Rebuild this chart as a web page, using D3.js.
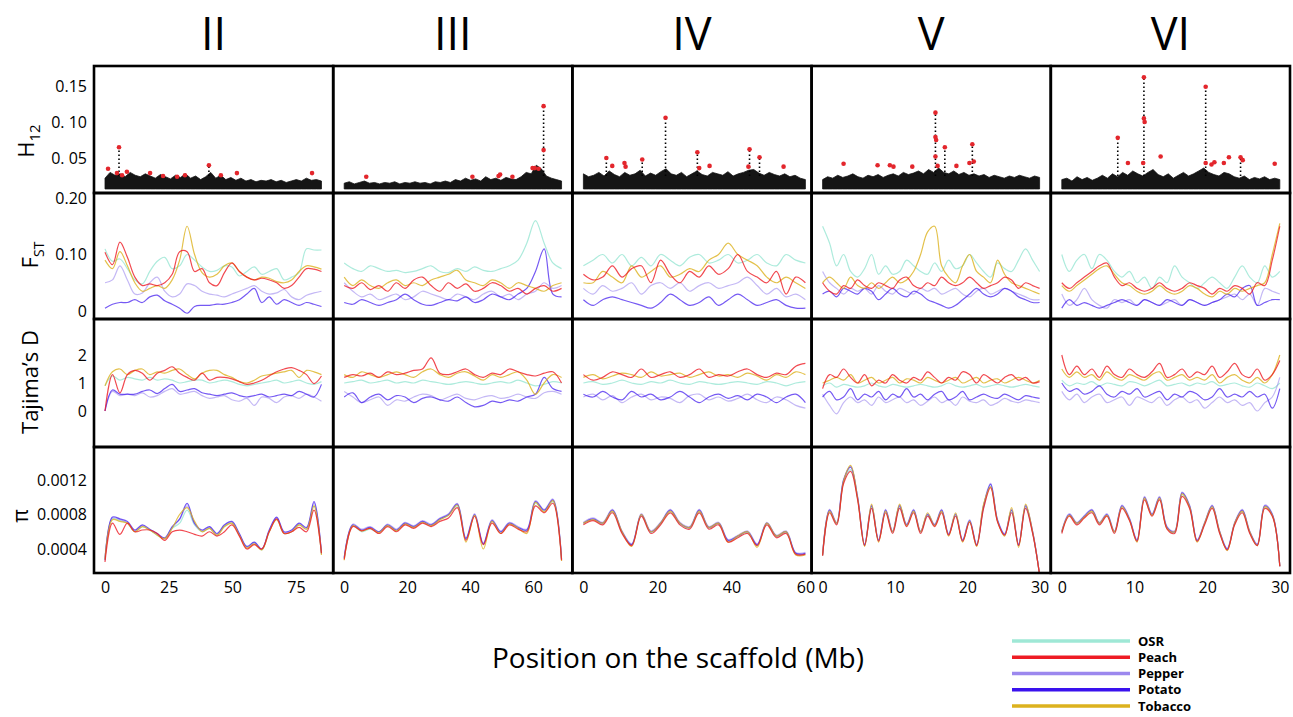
<!DOCTYPE html>
<html>
<head>
<meta charset="utf-8">
<script src="https://cdn.jsdelivr.net/npm/d3@7"></script>
<style>
  body { margin: 0; background: #fff; }
  svg text { font-family: "Open Sans", sans-serif; fill: #000; }
</style>
</head>
<body>
<svg id="chart" width="1293" height="717"></svg>
<script>
// ---- categories / ticks ----
const scaffolds = ["II", "III", "IV", "V", "VI"];
const scaffoldLength = [85, 69, 60, 30, 30];           // Mb
const xTicks = [[0, 25, 50, 75], [0, 20, 40, 60], [0, 20, 40, 60], [0, 10, 20, 30], [0, 10, 20, 30]];
const seriesNames = ["OSR", "Peach", "Pepper", "Potato", "Tobacco"];
const drawOrder = ["OSR", "Pepper", "Potato", "Tobacco", "Peach"];

const h12Ticks = [0.05, 0.10, 0.15];
const h12TickLabels = ["0. 05", "0. 10", "0.15"];
const fstTicks = [0, 0.10, 0.20];
const fstTickLabels = ["0", "0.10", "0.20"];
const tajTicks = [0, 1, 2];
const tajTickLabels = ["0", "1", "2"];
const piTicks = [0.0004, 0.0008, 0.0012];
const piTickLabels = ["0.0004", "0.0008", "0.0012"];

// ---- H12 : top of the dense black band, peaks and red outliers ----
const h12BandBase = 0.007;
const h12BandII = [0.022,0.03,0.026,0.028,0.024,0.03,0.026,0.024,0.028,0.025,0.022,0.027,0.024,0.021,0.026,0.023,0.028,0.022,0.025,0.02,0.024,0.03,0.022,0.026,0.02,0.023,0.019,0.022,0.018,0.02,0.017,0.019,0.018,0.02,0.017,0.019,0.016,0.018,0.02,0.018,0.022,0.019,0.02,0.018];
const h12BandIII = [0.015,0.017,0.014,0.016,0.018,0.015,0.016,0.014,0.016,0.015,0.017,0.014,0.016,0.015,0.017,0.015,0.016,0.014,0.017,0.016,0.018,0.016,0.02,0.018,0.022,0.019,0.021,0.018,0.024,0.02,0.022,0.019,0.023,0.021,0.02,0.024,0.03,0.028,0.04,0.035,0.025,0.022,0.02,0.018];
const h12BandIV = [0.028,0.024,0.026,0.03,0.025,0.032,0.027,0.024,0.03,0.026,0.028,0.033,0.025,0.029,0.026,0.031,0.035,0.028,0.026,0.03,0.024,0.028,0.032,0.027,0.025,0.03,0.028,0.026,0.031,0.025,0.028,0.03,0.033,0.034,0.029,0.026,0.03,0.027,0.025,0.028,0.024,0.026,0.022,0.02];
const h12BandV = [0.02,0.024,0.022,0.026,0.023,0.025,0.028,0.024,0.022,0.026,0.024,0.027,0.023,0.026,0.028,0.025,0.03,0.027,0.029,0.032,0.028,0.034,0.03,0.036,0.03,0.028,0.032,0.027,0.03,0.026,0.028,0.025,0.027,0.023,0.026,0.024,0.022,0.025,0.023,0.026,0.024,0.022,0.025,0.023];
const h12BandVI = [0.02,0.022,0.018,0.024,0.02,0.023,0.019,0.022,0.026,0.022,0.028,0.024,0.03,0.026,0.032,0.028,0.025,0.03,0.034,0.027,0.024,0.028,0.022,0.026,0.03,0.025,0.028,0.032,0.036,0.03,0.027,0.025,0.03,0.028,0.024,0.022,0.025,0.02,0.023,0.021,0.024,0.02,0.022,0.02];

const h12PeaksII = [[5.5,0.065],[40.8,0.04]];
const h12PeaksIII = [[63.3,0.122]];
const h12PeaksIV = [[6.2,0.05],[15.9,0.048],[22.2,0.106],[30.8,0.058],[44.9,0.062],[47.6,0.051]];
const h12PeaksV = [[15.6,0.113],[16.9,0.065],[20.7,0.069]];
const h12PeaksVI = [[7.7,0.078],[11.3,0.162],[19.8,0.149],[24.6,0.05]];

const h12OutliersII = [[1.2,0.035],[5.5,0.065],[4.7,0.029],[6.7,0.026],[8.6,0.031],[17.7,0.029],[22.8,0.025],[28.3,0.024],[31.4,0.026],[40.8,0.04],[45.5,0.026],[51.8,0.029],[81.3,0.029]];
const h12OutliersIII = [[7.0,0.024],[40.7,0.024],[49,0.025],[49.5,0.027],[53.4,0.024],[59.8,0.036],[60.5,0.036],[61.7,0.035],[63.3,0.061],[63.3,0.122]];
const h12OutliersIV = [[6.2,0.05],[7.8,0.039],[11.1,0.043],[11.4,0.038],[15.9,0.048],[22.2,0.106],[30.8,0.058],[31.3,0.036],[34.1,0.039],[44.9,0.062],[44.6,0.038],[47.6,0.051],[54.1,0.038]];
const h12OutliersV = [[2.9,0.042],[7.6,0.04],[9.3,0.04],[9.8,0.038],[12.4,0.038],[15.6,0.113],[15.6,0.079],[15.7,0.075],[15.6,0.052],[15.9,0.039],[16.9,0.065],[18.5,0.039],[20.3,0.043],[20.7,0.069],[20.9,0.045]];
const h12OutliersVI = [[7.7,0.078],[9.1,0.043],[11.3,0.162],[11.3,0.105],[11.4,0.1],[11.2,0.043],[13.6,0.052],[19.8,0.149],[19.8,0.043],[20.6,0.041],[21.0,0.044],[22.3,0.043],[23.0,0.051],[24.6,0.051],[24.9,0.047],[29.3,0.042]];

// ---- FST ----
const fstII = {
  OSR: [0.11,0.088,0.092,0.075,0.055,0.048,0.07,0.088,0.095,0.075,0.08,0.1,0.09,0.078,0.07,0.072,0.08,0.078,0.062,0.07,0.078,0.065,0.07,0.075,0.055,0.06,0.068,0.11,0.108,0.108],
  Peach: [0.104,0.082,0.122,0.095,0.06,0.045,0.048,0.045,0.05,0.065,0.105,0.105,0.07,0.075,0.05,0.045,0.068,0.085,0.07,0.06,0.055,0.058,0.055,0.05,0.04,0.045,0.06,0.075,0.074,0.07],
  Pepper: [0.05,0.055,0.08,0.055,0.03,0.032,0.05,0.06,0.035,0.025,0.03,0.048,0.045,0.035,0.03,0.028,0.025,0.03,0.035,0.04,0.045,0.035,0.03,0.032,0.038,0.025,0.02,0.028,0.032,0.035],
  Potato: [0.005,0.012,0.015,0.015,0.02,0.015,0.025,0.028,0.018,0.012,0.005,-0.004,0.008,0.01,0.01,0.012,0.012,0.015,0.02,0.03,0.04,0.015,0.025,0.012,0.02,0.015,0.01,0.015,0.012,0.008],
  Tobacco: [0.09,0.075,0.105,0.08,0.05,0.035,0.04,0.045,0.04,0.055,0.09,0.15,0.1,0.068,0.06,0.065,0.08,0.085,0.07,0.06,0.055,0.06,0.058,0.052,0.05,0.055,0.07,0.08,0.078,0.074]
};
const fstIII = {
  OSR: [0.085,0.075,0.07,0.08,0.075,0.07,0.072,0.068,0.07,0.075,0.08,0.07,0.068,0.075,0.07,0.078,0.072,0.07,0.075,0.08,0.09,0.12,0.16,0.12,0.085,0.075],
  Peach: [0.045,0.04,0.05,0.038,0.045,0.035,0.05,0.04,0.055,0.06,0.045,0.035,0.05,0.04,0.048,0.035,0.04,0.05,0.045,0.035,0.04,0.03,0.04,0.045,0.035,0.04],
  Pepper: [0.05,0.035,0.025,0.03,0.02,0.025,0.03,0.02,0.025,0.035,0.03,0.025,0.02,0.03,0.025,0.02,0.03,0.035,0.025,0.03,0.02,0.03,0.035,0.05,0.04,0.045],
  Potato: [0.015,0.012,0.02,0.015,0.01,0.015,0.02,0.03,0.02,0.012,0.01,0.015,0.02,0.018,0.025,0.015,0.02,0.03,0.025,0.02,0.03,0.04,0.07,0.11,0.03,0.025],
  Tobacco: [0.06,0.045,0.055,0.045,0.04,0.05,0.055,0.045,0.05,0.045,0.055,0.06,0.065,0.072,0.055,0.05,0.045,0.055,0.05,0.04,0.05,0.045,0.04,0.035,0.045,0.05]
};
const fstIV = {
  OSR: [0.08,0.09,0.1,0.085,0.1,0.08,0.095,0.08,0.1,0.09,0.08,0.095,0.1,0.085,0.09,0.1,0.085,0.09,0.1,0.085,0.08,0.1,0.09,0.085],
  Peach: [0.065,0.055,0.06,0.08,0.06,0.075,0.08,0.05,0.09,0.065,0.05,0.07,0.06,0.08,0.065,0.075,0.1,0.07,0.06,0.05,0.07,0.03,0.06,0.05],
  Pepper: [0.04,0.03,0.045,0.035,0.04,0.05,0.03,0.045,0.05,0.04,0.05,0.035,0.045,0.05,0.04,0.045,0.05,0.06,0.045,0.03,0.04,0.025,0.03,0.02],
  Potato: [0.02,0.01,0.02,0.025,0.02,0.015,0.01,0.005,0.015,0.03,0.02,0.01,0.015,0.025,0.01,0.02,0.03,0.02,0.01,0.015,0.02,0.01,0.005,0.005],
  Tobacco: [0.05,0.05,0.07,0.06,0.05,0.08,0.06,0.07,0.08,0.06,0.065,0.075,0.07,0.09,0.1,0.12,0.1,0.09,0.08,0.06,0.05,0.06,0.05,0.04]
};
const fstV = {
  OSR: [0.15,0.12,0.08,0.1,0.07,0.06,0.075,0.1,0.065,0.08,0.065,0.07,0.09,0.08,0.07,0.065,0.085,0.07,0.09,0.075,0.08,0.1,0.085,0.07,0.06,0.085,0.075,0.07,0.09,0.11,0.09,0.07],
  Peach: [0.05,0.035,0.03,0.045,0.04,0.055,0.045,0.04,0.05,0.045,0.04,0.055,0.06,0.045,0.04,0.05,0.045,0.06,0.05,0.045,0.05,0.06,0.05,0.04,0.045,0.05,0.06,0.055,0.04,0.05,0.045,0.04],
  Pepper: [0.07,0.05,0.04,0.03,0.04,0.035,0.04,0.03,0.045,0.035,0.03,0.04,0.035,0.03,0.04,0.035,0.04,0.03,0.035,0.04,0.03,0.025,0.035,0.04,0.03,0.035,0.04,0.035,0.03,0.025,0.02,0.02],
  Potato: [0.03,0.035,0.025,0.04,0.035,0.03,0.04,0.035,0.02,0.03,0.04,0.03,0.025,0.035,0.03,0.02,0.015,0.01,0.005,0.01,0.02,0.03,0.04,0.03,0.025,0.03,0.04,0.035,0.025,0.02,0.015,0.015],
  Tobacco: [0.05,0.06,0.05,0.04,0.06,0.045,0.04,0.05,0.04,0.05,0.06,0.05,0.055,0.07,0.1,0.14,0.15,0.08,0.06,0.05,0.08,0.1,0.07,0.06,0.05,0.09,0.065,0.05,0.045,0.04,0.035,0.03]
};
const fstVI = {
  OSR: [0.1,0.07,0.09,0.1,0.075,0.1,0.09,0.07,0.06,0.07,0.05,0.06,0.04,0.06,0.05,0.08,0.06,0.05,0.04,0.05,0.06,0.05,0.04,0.06,0.08,0.06,0.05,0.08,0.06,0.07],
  Peach: [0.05,0.04,0.05,0.06,0.07,0.08,0.085,0.06,0.045,0.05,0.04,0.035,0.04,0.05,0.04,0.035,0.04,0.05,0.045,0.04,0.03,0.04,0.035,0.045,0.04,0.03,0.05,0.045,0.09,0.15],
  Pepper: [0.03,0.01,0.02,0.04,0.02,0.01,0.005,0.02,0.015,0.02,0.01,0.02,0.015,0.01,0.015,0.02,0.01,0.02,0.015,0.01,0.015,0.02,0.025,0.03,0.02,0.03,0.01,0.04,0.035,0.03],
  Potato: [0.005,0.02,0.01,0.015,0.01,0.005,0.01,0.015,0.02,0.015,0.01,0.02,0.015,0.01,0.02,0.015,0.01,0.02,0.015,0.01,0.015,0.02,0.03,0.025,0.04,0.045,0.01,0.015,0.02,0.02],
  Tobacco: [0.045,0.035,0.045,0.055,0.065,0.075,0.08,0.065,0.05,0.045,0.035,0.03,0.035,0.045,0.035,0.03,0.035,0.045,0.04,0.03,0.025,0.035,0.03,0.04,0.035,0.04,0.045,0.05,0.1,0.155]
};

// ---- Tajima's D ----
const tajII = {
  OSR: [0.9,1.25,1.1,1.2,1.15,1.1,1.2,1.1,1.15,1.1,1.0,1.05,1.1,1.1,1.0,1.05,1.1,1.05,0.95,0.9,0.95,1.0,1.05,1.1,1.0,1.05,1.1,1.0,0.95,1.05],
  Peach: [0.0,1.3,0.65,1.3,1.45,1.35,1.1,1.35,1.45,1.58,1.35,1.2,1.1,1.35,1.1,1.2,1.2,1.15,1.05,0.95,1.0,1.1,1.25,1.4,1.5,1.55,1.45,1.3,0.98,1.25],
  Pepper: [0.0,0.7,0.55,0.6,0.55,0.65,0.5,0.55,0.7,0.8,0.6,0.65,0.7,0.55,0.45,0.5,0.55,0.4,0.35,0.45,0.2,0.5,0.45,0.3,0.5,0.55,0.45,0.6,0.5,0.35],
  Potato: [0.0,0.75,0.6,0.6,0.6,0.7,0.75,0.62,0.8,0.95,0.7,0.75,0.8,0.65,0.6,0.55,0.6,0.65,0.55,0.5,0.55,0.6,0.5,0.55,0.6,0.55,0.7,0.6,0.5,0.95],
  Tobacco: [0.9,1.4,1.5,1.3,1.45,1.5,1.3,1.4,1.35,1.45,1.5,1.3,1.15,1.35,1.45,1.45,1.3,1.2,1.05,1.0,1.1,1.25,1.3,1.35,1.4,1.45,1.2,1.45,1.4,1.3]
};
const tajIII = {
  OSR: [1.0,1.05,1.1,1.0,1.05,1.1,1.0,1.05,1.0,1.1,1.05,1.0,0.95,1.0,1.05,1.0,0.95,1.0,1.05,1.0,1.1,1.0,0.9,0.95,1.05,1.0],
  Peach: [1.2,1.3,1.25,1.35,1.2,1.4,1.3,1.35,1.45,1.5,1.9,1.35,1.3,1.4,1.5,1.3,1.2,1.35,1.3,1.5,1.4,1.3,1.25,1.35,1.4,1.0],
  Pepper: [0.7,0.5,0.3,0.4,0.5,0.2,0.4,0.35,0.5,0.6,0.55,0.4,0.5,0.6,0.45,0.4,0.5,0.55,0.45,0.5,0.6,0.5,0.45,0.65,0.7,0.6],
  Potato: [0.5,0.65,0.3,0.5,0.6,0.4,0.55,0.5,0.3,0.45,0.5,0.4,0.35,0.5,0.3,0.15,0.2,0.35,0.3,0.4,0.35,0.5,0.6,1.2,0.8,0.7],
  Tobacco: [1.3,1.2,1.4,1.3,1.2,1.3,1.4,1.3,1.2,1.4,1.5,1.3,1.2,1.35,1.4,1.25,1.1,1.3,1.2,1.3,1.4,1.1,0.6,1.0,1.3,1.2]
};
const tajIV = {
  OSR: [1.0,1.05,0.95,1.0,1.1,1.0,0.95,1.05,1.0,1.1,1.0,0.95,1.05,1.0,0.95,1.0,1.05,1.0,0.95,1.05,1.0,0.9,1.0,1.05],
  Peach: [1.3,1.1,1.2,1.4,1.3,1.2,1.5,1.2,1.3,1.4,1.2,1.3,1.5,1.2,1.3,1.25,1.4,1.5,1.3,1.2,1.35,1.3,1.6,1.7],
  Pepper: [0.5,0.6,0.4,0.55,0.3,0.5,0.6,0.4,0.5,0.45,0.3,0.55,0.6,0.4,0.5,0.35,0.45,0.6,0.4,0.3,0.5,0.4,0.2,0.1],
  Potato: [0.6,0.5,0.7,0.5,0.4,0.7,0.5,0.6,0.4,0.5,0.7,0.5,0.3,0.5,0.6,0.45,0.55,0.4,0.6,0.5,0.3,0.5,0.6,0.3],
  Tobacco: [1.2,1.3,1.15,1.25,1.35,1.3,1.2,1.4,1.25,1.3,1.35,1.2,1.3,1.4,1.25,1.3,1.2,1.35,1.25,1.1,1.3,1.2,1.4,1.3]
};
const tajV = {
  OSR: [0.9,1.0,0.85,0.95,0.9,0.85,0.9,1.0,0.9,0.85,0.95,0.9,0.85,0.9,0.95,0.9,0.85,0.9,1.0,0.9,0.85,0.9,0.95,0.85,0.9,0.95,0.9,0.85,0.9,0.95,0.9,0.85],
  Peach: [0.8,1.3,1.2,1.5,1.2,1.0,1.3,0.9,1.1,1.0,1.3,1.1,1.0,1.2,1.1,1.4,1.2,1.0,1.2,1.1,1.4,1.3,1.0,1.3,1.15,1.0,1.2,1.3,1.1,1.2,1.0,1.05],
  Pepper: [0.6,0.2,-0.1,0.3,0.5,0.3,0.4,0.2,0.5,0.3,0.4,0.5,0.3,0.4,0.2,0.35,0.5,0.3,0.4,0.2,0.5,0.35,0.3,0.4,0.2,0.3,0.45,0.35,0.3,0.4,0.35,0.3],
  Potato: [0.5,0.7,0.4,0.5,0.8,0.4,0.6,0.5,0.7,0.4,0.6,0.5,0.8,0.5,0.6,0.4,0.6,0.7,0.4,0.5,0.7,0.4,0.5,0.6,0.5,0.45,0.6,0.5,0.4,0.55,0.5,0.45],
  Tobacco: [1.0,1.1,1.2,1.1,1.3,1.0,1.1,1.2,1.0,1.1,1.2,1.0,1.15,1.1,1.0,1.2,1.1,1.0,1.1,1.2,1.0,1.1,1.2,1.0,1.1,1.15,1.0,1.1,1.2,1.1,1.0,1.1]
};
const tajVI = {
  OSR: [1.1,0.9,1.0,0.95,1.05,0.9,1.0,0.95,0.9,1.05,1.0,0.9,1.0,1.1,0.9,0.95,1.0,0.9,1.0,0.95,1.05,0.9,0.95,1.0,0.9,0.85,1.0,0.9,0.8,1.0],
  Peach: [2.0,1.3,1.6,1.3,1.5,1.2,1.6,1.3,1.2,1.5,1.3,1.2,1.4,1.7,1.2,1.3,1.5,1.2,1.4,1.3,1.6,1.2,1.4,1.7,1.3,1.2,1.5,1.1,1.3,1.8],
  Pepper: [0.7,0.4,0.6,0.3,0.5,0.6,0.3,0.4,0.5,0.2,0.5,0.4,0.3,0.5,0.2,0.4,0.5,0.3,0.4,0.1,0.3,0.5,0.3,0.4,0.2,0.3,0.0,0.3,0.5,1.2],
  Potato: [1.0,0.7,0.8,0.6,0.7,0.9,0.6,0.5,0.7,0.6,0.8,0.5,0.6,0.7,0.4,0.6,0.5,0.7,0.6,0.4,0.5,0.8,0.5,0.6,0.5,0.7,0.5,0.6,0.1,0.8],
  Tobacco: [1.5,1.2,1.4,1.2,1.3,1.1,1.4,1.2,1.1,1.3,1.2,1.1,1.3,1.4,1.1,1.2,1.3,1.1,1.2,1.1,1.3,1.0,1.2,1.3,1.1,1.0,1.2,1.0,1.3,2.0]
};

// ---- nucleotide diversity (pi) ----
const piII = {
  OSR: [0.00028,0.00075,0.00073,0.0007,0.0006,0.00066,0.00062,0.00056,0.00052,0.00064,0.0007,0.00085,0.00068,0.0006,0.00064,0.00056,0.00066,0.0007,0.00056,0.00042,0.00047,0.00039,0.0006,0.00075,0.00058,0.0006,0.00068,0.00063,0.0009,0.00034],
  Peach: [0.00025,0.0007,0.00057,0.0007,0.0006,0.00062,0.00062,0.00058,0.0005,0.0006,0.00062,0.0006,0.00057,0.00055,0.0006,0.00055,0.0006,0.00068,0.00055,0.0004,0.00045,0.0004,0.0006,0.00075,0.00058,0.0006,0.00065,0.0006,0.00085,0.00035],
  Pepper: [0.0003,0.00076,0.00074,0.0007,0.00061,0.00067,0.00062,0.00057,0.00052,0.00065,0.00074,0.0009,0.00069,0.00061,0.00065,0.00057,0.00067,0.00071,0.00057,0.00042,0.00047,0.0004,0.00061,0.00076,0.00059,0.00061,0.00069,0.00064,0.00093,0.00036],
  Potato: [0.00027,0.00077,0.00075,0.00072,0.00062,0.00068,0.00063,0.00058,0.00053,0.00066,0.00075,0.00093,0.0007,0.00062,0.00066,0.00058,0.00068,0.00072,0.00058,0.00043,0.00048,0.0004,0.00062,0.00077,0.0006,0.00062,0.0007,0.00065,0.00095,0.00035],
  Tobacco: [0.00028,0.00074,0.00072,0.0007,0.0006,0.00066,0.00062,0.00056,0.00052,0.00064,0.0008,0.00088,0.00072,0.0006,0.00064,0.00056,0.00066,0.0007,0.00056,0.00041,0.00046,0.00039,0.0006,0.00074,0.00058,0.0006,0.00068,0.00063,0.0009,0.00033]
};
const piIII = {
  OSR: [0.00029,0.00067,0.0006,0.00063,0.00059,0.00067,0.00061,0.00069,0.00065,0.00071,0.00067,0.00074,0.00079,0.0009,0.00051,0.00079,0.00045,0.00072,0.00059,0.00069,0.00064,0.00061,0.00093,0.00084,0.00095,0.00028],
  Peach: [0.00028,0.00066,0.00061,0.00064,0.00058,0.00066,0.0006,0.00068,0.00064,0.0007,0.00066,0.00072,0.00076,0.00088,0.0005,0.00078,0.00045,0.0007,0.00058,0.00068,0.00063,0.0006,0.0009,0.00082,0.00093,0.00027],
  Pepper: [0.0003,0.00069,0.00063,0.00066,0.0006,0.00069,0.00063,0.00071,0.00067,0.00073,0.00069,0.00076,0.00081,0.00093,0.00053,0.00081,0.00047,0.00074,0.00061,0.00071,0.00066,0.00063,0.00096,0.00086,0.00098,0.00029],
  Potato: [0.0003,0.00068,0.00062,0.00065,0.0006,0.00068,0.00062,0.0007,0.00066,0.00072,0.00068,0.00075,0.0008,0.00092,0.00052,0.0008,0.00046,0.00073,0.0006,0.0007,0.00065,0.00062,0.00095,0.00085,0.00097,0.00028],
  Tobacco: [0.00027,0.00067,0.00061,0.00064,0.00059,0.00067,0.00061,0.00069,0.00065,0.00071,0.00067,0.00074,0.00079,0.00091,0.00048,0.00079,0.0004,0.00072,0.00058,0.00069,0.00064,0.00058,0.00094,0.00083,0.00096,0.00026]
};
const piIV = {
  OSR: [0.00069,0.00074,0.00069,0.00083,0.00059,0.00045,0.00079,0.00059,0.00069,0.00083,0.00069,0.00064,0.00083,0.00064,0.00069,0.00049,0.00054,0.00059,0.00044,0.00069,0.00054,0.00059,0.00035,0.00034],
  Peach: [0.00068,0.00073,0.00068,0.00082,0.00058,0.00044,0.00078,0.00058,0.00068,0.00082,0.00068,0.00063,0.00082,0.00063,0.00068,0.00048,0.00053,0.00058,0.00044,0.00068,0.00053,0.00058,0.00034,0.00034],
  Pepper: [0.00071,0.00076,0.00071,0.00086,0.00061,0.00046,0.00081,0.00061,0.00071,0.00086,0.00071,0.00066,0.00086,0.00066,0.00071,0.00051,0.00056,0.00061,0.00046,0.00071,0.00056,0.00061,0.00036,0.00036],
  Potato: [0.0007,0.00075,0.0007,0.00085,0.0006,0.00045,0.0008,0.0006,0.0007,0.00085,0.0007,0.00065,0.00085,0.00065,0.0007,0.0005,0.00055,0.0006,0.00045,0.0007,0.00055,0.0006,0.00035,0.00035],
  Tobacco: [0.0007,0.00074,0.0007,0.00084,0.0006,0.00043,0.0008,0.0006,0.0007,0.00084,0.0007,0.00065,0.00084,0.00065,0.0007,0.00048,0.00055,0.0006,0.00042,0.0007,0.00055,0.0006,0.00033,0.00033]
};
const piV = {
  OSR: [0.00032,0.00083,0.00069,0.00118,0.00132,0.00098,0.00044,0.00088,0.0005,0.00083,0.00059,0.00088,0.00067,0.00083,0.00059,0.00079,0.00067,0.00083,0.00056,0.00079,0.00049,0.00072,0.00044,0.00088,0.00113,0.00072,0.00056,0.00083,0.00044,0.00088,0.00059,0.0001],
  Peach: [0.00032,0.00082,0.00068,0.00116,0.0013,0.00097,0.00044,0.00087,0.00049,0.00082,0.00058,0.00087,0.00066,0.00082,0.00058,0.00078,0.00066,0.00082,0.00056,0.00078,0.00049,0.00071,0.00044,0.00087,0.00111,0.00071,0.00056,0.00082,0.00044,0.00087,0.00058,0.0001],
  Pepper: [0.00034,0.00086,0.00071,0.00121,0.00136,0.00101,0.00046,0.00091,0.00051,0.00086,0.00061,0.00091,0.00069,0.00086,0.00061,0.00081,0.00069,0.00086,0.00058,0.00081,0.00051,0.00074,0.00046,0.00091,0.00116,0.00074,0.00058,0.00086,0.00046,0.00091,0.00061,0.0001],
  Potato: [0.00033,0.00085,0.0007,0.0012,0.00135,0.001,0.00045,0.0009,0.0005,0.00085,0.0006,0.0009,0.00068,0.00085,0.0006,0.0008,0.00068,0.00085,0.00057,0.0008,0.0005,0.00073,0.00045,0.0009,0.00115,0.00073,0.00057,0.00085,0.00045,0.0009,0.0006,0.0001],
  Tobacco: [0.00033,0.00084,0.0007,0.00119,0.00137,0.00099,0.00043,0.00092,0.00048,0.00084,0.0006,0.00092,0.00067,0.00084,0.0006,0.00082,0.00067,0.00084,0.00055,0.00082,0.00048,0.00072,0.00043,0.00092,0.00112,0.00072,0.00055,0.00088,0.00042,0.00092,0.0006,0.0001]
};
const piVI = {
  OSR: [0.00059,0.00079,0.00069,0.00077,0.00083,0.00069,0.00079,0.00059,0.00088,0.00074,0.00049,0.00098,0.00079,0.00098,0.00064,0.00059,0.00103,0.00088,0.00049,0.00069,0.00088,0.00059,0.00039,0.00069,0.00083,0.00059,0.00044,0.00088,0.00079,0.0002],
  Peach: [0.00058,0.00078,0.00068,0.00076,0.00082,0.00068,0.00078,0.00058,0.00087,0.00073,0.00049,0.00097,0.00078,0.00097,0.00063,0.00058,0.00101,0.00087,0.00049,0.00068,0.00087,0.00058,0.00039,0.00068,0.00082,0.00058,0.00044,0.00087,0.00078,0.0002],
  Pepper: [0.00061,0.00081,0.00071,0.00079,0.00086,0.00071,0.00081,0.00061,0.00091,0.00076,0.00051,0.00101,0.00081,0.00101,0.00066,0.00061,0.00106,0.00091,0.00051,0.00071,0.00091,0.00061,0.00041,0.00071,0.00086,0.00061,0.00046,0.00091,0.00081,0.0002],
  Potato: [0.0006,0.0008,0.0007,0.00078,0.00085,0.0007,0.0008,0.0006,0.0009,0.00075,0.0005,0.001,0.0008,0.001,0.00065,0.0006,0.00105,0.0009,0.0005,0.0007,0.0009,0.0006,0.0004,0.0007,0.00085,0.0006,0.00045,0.0009,0.0008,0.0002],
  Tobacco: [0.0006,0.00079,0.0007,0.00077,0.00084,0.0007,0.00079,0.0006,0.00089,0.00074,0.00048,0.00099,0.00079,0.00099,0.00064,0.0006,0.00104,0.00089,0.00048,0.0007,0.00089,0.0006,0.00038,0.0007,0.00084,0.0006,0.00044,0.00089,0.00079,0.0002]
};

const h12Band = [h12BandII, h12BandIII, h12BandIV, h12BandV, h12BandVI];
const h12Peaks = [h12PeaksII, h12PeaksIII, h12PeaksIV, h12PeaksV, h12PeaksVI];
const h12Outliers = [h12OutliersII, h12OutliersIII, h12OutliersIV, h12OutliersV, h12OutliersVI];
const fstData = [fstII, fstIII, fstIV, fstV, fstVI];
const tajData = [tajII, tajIII, tajIV, tajV, tajVI];
const piData = [piII, piIII, piIV, piV, piVI];

// ---- layout ----
const colors = { OSR: "#9fe8d6", Peach: "#ee1c24", Pepper: "#9c88ee", Potato: "#3a12ee", Tobacco: "#dcb21e" };
const lineAlpha = { OSR: 0.85, Peach: 0.8, Pepper: 0.6, Potato: 0.7, Tobacco: 0.8 };
const colLeft = d3.range(6).map(i => 94 + i * 239.2);
const rowTop = [66, 193, 319, 447, 573];
const tickSpanPx = [191, 189, 222, 217, 218];   // px from 0 to last tick, per scaffold

const svg = d3.select("#chart");

const yH12 = d3.scaleLinear().domain([0, 0.15]).range([194, 86]);
const yFst = d3.scaleLinear().domain([0, 0.2]).range([311, 198]);
const yTaj = d3.scaleLinear().domain([0, 2]).range([411, 355]);
const yPi = d3.scaleLinear().domain([0.0004, 0.0012]).range([549, 480]);

const defs = svg.append("defs");

scaffolds.forEach((name, c) => {
  const left = colLeft[c];
  const lastTick = xTicks[c][xTicks[c].length - 1];
  const x = d3.scaleLinear().domain([0, lastTick]).range([left + 11, left + 11 + tickSpanPx[c]]);
  const L = scaffoldLength[c];
  const pos = (i, n) => i * L / (n - 1);

  // clip paths per panel
  for (let r = 0; r < 4; r++) {
    defs.append("clipPath").attr("id", `clip-${c}-${r}`)
      .append("rect")
      .attr("x", left + 1).attr("y", rowTop[r] + 1)
      .attr("width", colLeft[c + 1] - left - 2).attr("height", rowTop[r + 1] - rowTop[r] - 2);
  }

  // H12 dense band (jagged top of the scatter cloud)
  const gH = svg.append("g").attr("clip-path", `url(#clip-${c}-0)`);
  const band = h12Band[c];
  gH.append("path")
    .datum(band)
    .attr("fill", "#151515")
    .attr("stroke", "#151515")
    .attr("stroke-width", 0.8)
    .attr("d", d3.area()
      .x((d, i) => x(pos(i, band.length)))
      .y0(yH12(h12BandBase))
      .y1(d => yH12(d))
      .curve(d3.curveLinear));
  gH.selectAll("line.stem")
    .data(h12Peaks[c])
    .join("line")
    .attr("x1", d => x(d[0])).attr("x2", d => x(d[0]))
    .attr("y1", yH12(0.025)).attr("y2", d => yH12(d[1]))
    .attr("stroke", "#000").attr("stroke-width", 1.6)
    .attr("stroke-dasharray", "1.5,2.5");
  gH.selectAll("circle")
    .data(h12Outliers[c])
    .join("circle")
    .attr("cx", d => x(d[0])).attr("cy", d => yH12(d[1]))
    .attr("r", 2.3)
    .attr("fill", "#e3262c");

  // line panels
  const linePanels = [[fstData[c], yFst, 1], [tajData[c], yTaj, 2], [piData[c], yPi, 3]];
  linePanels.forEach(([data, y, r]) => {
    const g = svg.append("g").attr("clip-path", `url(#clip-${c}-${r})`);
    drawOrder.forEach(s => {
      const vals = data[s];
      g.append("path")
        .datum(vals)
        .attr("fill", "none")
        .attr("stroke", colors[s])
        .attr("stroke-opacity", lineAlpha[s])
        .attr("stroke-width", 1.2)
        .attr("d", d3.line()
          .x((d, i) => x(pos(i, vals.length)))
          .y(d => y(d))
          .curve(d3.curveCatmullRom.alpha(0.5)));
    });
  });

  // x axis
  const ax = svg.append("g")
    .attr("transform", `translate(0,${rowTop[4]})`)
    .call(d3.axisBottom(x).tickValues(xTicks[c]).tickSize(0).tickPadding(9).tickFormat(d3.format("d")));
  ax.select(".domain").remove();
  ax.selectAll("text").style("font-size", "16px").style("font-family", "'Open Sans', sans-serif");

  // scaffold header
  svg.append("text")
    .attr("x", (left + colLeft[c + 1]) / 2)
    .attr("y", 50)
    .attr("text-anchor", "middle")
    .style("font-size", "45px")
    .text(name);
});

// panel borders
for (let c = 0; c < 5; c++) {
  for (let r = 0; r < 4; r++) {
    svg.append("rect")
      .attr("x", colLeft[c]).attr("y", rowTop[r])
      .attr("width", colLeft[c + 1] - colLeft[c]).attr("height", rowTop[r + 1] - rowTop[r])
      .attr("fill", "none").attr("stroke", "#000").attr("stroke-width", 2.6);
  }
}

// y axes
function yAxis(scale, ticks, labels) {
  const map = new Map(ticks.map((t, i) => [t, labels[i]]));
  const g = svg.append("g")
    .attr("transform", `translate(${colLeft[0]},0)`)
    .call(d3.axisLeft(scale).tickValues(ticks).tickSize(0).tickPadding(7).tickFormat(d => map.get(d)));
  g.select(".domain").remove();
  g.selectAll("text").style("font-size", "16px").style("font-family", "'Open Sans', sans-serif");
}
yAxis(yH12, h12Ticks, h12TickLabels);
yAxis(yFst, fstTicks, fstTickLabels);
yAxis(yTaj, tajTicks, tajTickLabels);
yAxis(yPi, piTicks, piTickLabels);

// y titles
const h12Title = svg.append("text")
  .attr("transform", "translate(34,141) rotate(-90)")
  .attr("text-anchor", "middle")
  .style("font-size", "22px");
h12Title.append("tspan").text("H");
h12Title.append("tspan").attr("dy", 6).style("font-size", "15px").text("12");

const fstTitle = svg.append("text")
  .attr("transform", "translate(38,255) rotate(-90)")
  .attr("text-anchor", "middle")
  .style("font-size", "22px");
fstTitle.append("tspan").text("F");
fstTitle.append("tspan").attr("dy", 6).style("font-size", "14px").text("ST");

svg.append("text")
  .attr("transform", "translate(38,382) rotate(-90)")
  .attr("text-anchor", "middle")
  .style("font-size", "22px")
  .text("Tajima\u2019s D");

svg.append("text")
  .attr("transform", "translate(28,516) rotate(-90)")
  .attr("text-anchor", "middle")
  .style("font-size", "21px")
  .text("\u03c0");

// x title
svg.append("text")
  .attr("x", 678).attr("y", 668)
  .attr("text-anchor", "middle")
  .attr("textLength", 372)
  .attr("lengthAdjust", "spacingAndGlyphs")
  .style("font-size", "27px")
  .text("Position on the scaffold (Mb)");

// legend
const legend = svg.append("g");
const legendY = d3.scalePoint().domain(seriesNames).range([641, 706]);
seriesNames.forEach(s => {
  legend.append("line")
    .attr("x1", 1012).attr("x2", 1130)
    .attr("y1", legendY(s)).attr("y2", legendY(s))
    .attr("stroke", colors[s]).attr("stroke-width", 3.5);
  legend.append("text")
    .attr("x", 1138).attr("y", legendY(s))
    .attr("dy", "0.36em")
    .style("font-size", "13px").style("font-weight", "bold")
    .text(s);
});
</script>
</body>
</html>
